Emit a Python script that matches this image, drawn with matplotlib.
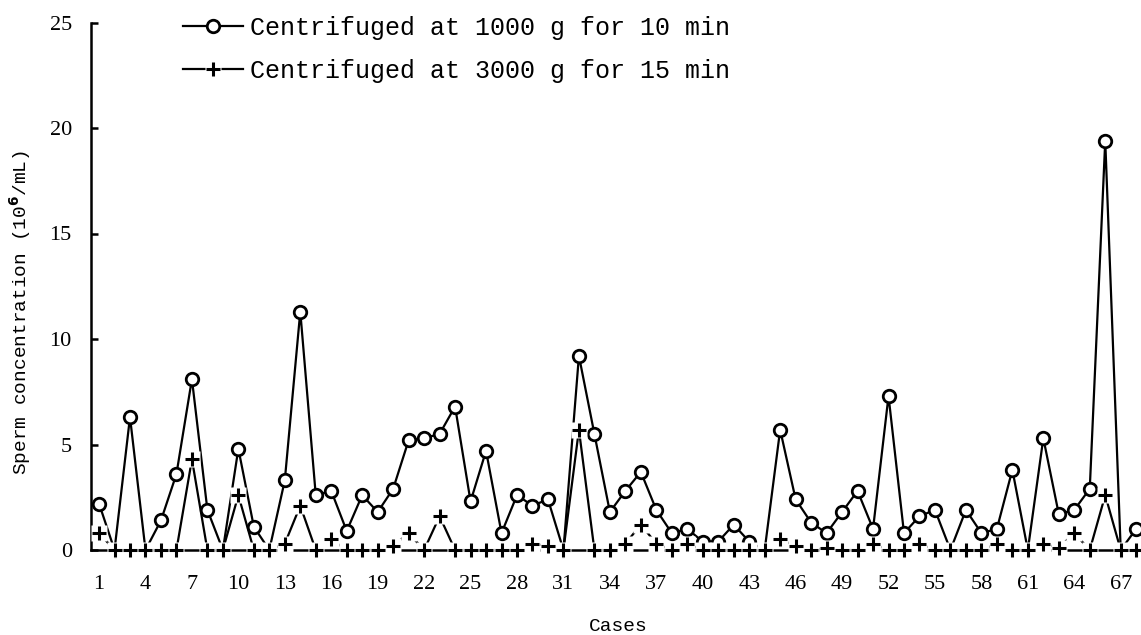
import numpy as np
import matplotlib
matplotlib.use('Agg')
import matplotlib.pyplot as plt
from matplotlib.lines import Line2D

plt.rcParams['font.family'] = ['Liberation Mono', 'DejaVu Sans']

cases = np.arange(1, 69)

# sperm concentration (10^6/mL)
conc_1000g = [
    2.2, 0, 6.3, 0, 1.4, 3.6, 8.1, 1.9, 0, 4.8,        # 1-10
    1.1, 0, 3.3, 11.3, 2.6, 2.8, 0.9, 2.6, 1.8, 2.9,   # 11-20
    5.2, 5.3, 5.5, 6.8, 2.3, 4.7, 0.8, 2.6, 2.1, 2.4,  # 21-30
    0, 9.2, 5.5, 1.8, 2.8, 3.7, 1.9, 0.8, 1.0, 0.4,    # 31-40
    0.4, 1.2, 0.4, 0, 5.7, 2.4, 1.3, 0.8, 1.8, 2.8,    # 41-50
    1.0, 7.3, 0.8, 1.6, 1.9, 0, 1.9, 0.8, 1.0, 3.8,    # 51-60
    0, 5.3, 1.7, 1.9, 2.9, 19.4, 0, 1.0]               # 61-68

conc_3000g = [
    0.8, 0, 0, 0, 0, 0, 4.3, 0, 0, 2.6,
    0, 0, 0.3, 2.1, 0, 0.5, 0, 0, 0, 0.2,
    0.8, 0, 1.6, 0, 0, 0, 0, 0, 0.3, 0.2,
    0, 5.7, 0, 0, 0.3, 1.2, 0.3, 0, 0.3, 0,
    0, 0, 0, 0, 0.5, 0.2, 0, 0.1, 0, 0,
    0.3, 0, 0, 0.3, 0, 0, 0, 0, 0.3, 0,
    0, 0.3, 0.1, 0.8, 0, 2.6, 0, 0]

labels = ["Centrifuged at 1000 g for 10 min", "Centrifuged at 3000 g for 15 min"]
xtick_cases = list(range(1, 68, 3))
yticks = [0, 5, 10, 15, 20, 25]

W, H = 1141, 635
fig = plt.figure(figsize=(W / 100, H / 100), dpi=100)
ax = fig.add_axes([91.3 / W, 85 / H, (W - 91.3) / W, 527.5 / H])

lw = 1.6
ax.plot(cases, conc_1000g, color='black', lw=lw, zorder=3, clip_on=False)
ax.plot(cases, conc_3000g, color='black', lw=lw, zorder=3, clip_on=False)
ax.plot(cases, conc_1000g, ls='none', marker='o', ms=9, mfc='white', mec='black',
        mew=2.0, zorder=4, clip_on=False)
# plus markers sit on a white patch, which hides the lines/axis behind them
ax.plot(cases, conc_3000g, ls='none', marker='s', ms=11.5, mfc='white', mec='none',
        zorder=5, clip_on=False)
ax.plot(cases, conc_3000g, ls='none', marker='+', ms=10, mew=2.2, color='black',
        zorder=6, clip_on=False)

ax.set_xlim(0.5, 68.31)
ax.set_ylim(0, 25)
ax.set_xticks(xtick_cases)
ax.set_yticks(yticks)
ax.tick_params(axis='x', length=0, pad=18, labelsize=16)
ax.tick_params(axis='y', direction='in', length=5, width=1.8, pad=14, labelsize=16)
for t in ax.get_xticklabels() + ax.get_yticklabels():
    t.set_fontfamily(['Liberation Serif', 'DejaVu Serif'])

for s in ['top', 'right']:
    ax.spines[s].set_visible(False)
for s in ['left', 'bottom']:
    ax.spines[s].set_linewidth(1.8)

ax.set_xlabel("Cases", fontsize=14)
ax.xaxis.set_label_coords(0.502, -0.128)
ax.set_ylabel(r"Sperm concentration (10$^{\mathbf{6}}$/mL)", fontsize=14)
ax.yaxis.set_label_coords(-0.056, 0.45)

h1 = Line2D([], [], color='black', lw=lw, marker='o', ms=9, mfc='white', mec='black', mew=2.0)
h2 = (Line2D([], [], color='black', lw=lw),
      Line2D([], [], ls='none', marker='s', ms=11.5, mfc='white', mec='none'),
      Line2D([], [], ls='none', marker='+', ms=10, mew=2.2, color='black'))
ax.legend([h1, h2], labels, loc='upper left', bbox_to_anchor=(183 / W, 1 - 16 / H),
          bbox_transform=fig.transFigure, frameon=False, fontsize=18,
          handlelength=2.4, handletextpad=0.3, labelspacing=0.75,
          borderpad=0, borderaxespad=0)

fig.savefig("out.png", dpi=100)
